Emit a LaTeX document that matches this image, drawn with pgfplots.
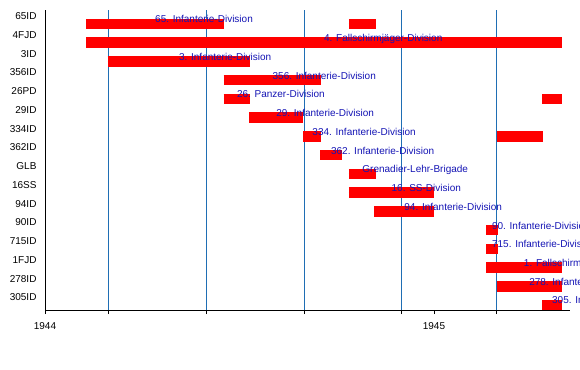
\documentclass[border=0pt]{standalone}
\usepackage{fontspec}
\setmainfont{Liberation Sans}
\usepackage{pgfplots}
\usepackage{pgfplotstable}
\pgfplotsset{compat=1.18}
\definecolor{gridblue}{RGB}{31,110,180}
\definecolor{labelblue}{RGB}{20,20,180}
% x = days since 1 January 1944
\pgfplotstableread{
y start end label
15 39 168 {65. Infanterie-Division}
15 286 311 {}
14 39 486 {4. Fallschirmjäger-Division}
13 59 193 {3. Infanterie-Division}
12 168 260 {356. Infanterie-Division}
11 168 193 {26. Panzer-Division}
11 468 486 {}
10 192 243 {29. Infanterie-Division}
9 243 260 {334. Infanterie-Division}
9 425 469 {}
8 259 279 {362. Infanterie-Division}
7 286 311 {Grenadier-Lehr-Brigade}
6 286 366 {16. SS-Division}
5 310 366 {94. Infanterie-Division}
4 415 426 {90. Infanterie-Division}
3 415 426 {715. Infanterie-Division}
2 415 486 {1. Fallschirmjäger-Division}
1 425 486 {278. Infanterie-Division}
0 468 486 {305. Infanterie-Division}
}\bars
\begin{document}
\begin{tikzpicture}
\useasboundingbox (0,0) rectangle (580bp,370bp);
\begin{axis}[
  at={(45bp,60bp)}, anchor=south west,
  scale only axis, width=525bp, height=300bp,
  xmin=0, xmax=494, ymin=-0.267, ymax=15.747,
  axis lines=left, axis line style={-, black, line width=0.8bp},
  xtick={0,366}, xticklabels={1944,1945},
  extra x ticks={60,152,244,335,425}, extra x tick labels={},
  extra x tick style={grid=major},
  major grid style={gridblue, line width=0.8bp},
  tick align=outside, major tick length=4bp,
  x tick style={black, line width=0.8bp},
  xticklabel style={yshift=-5bp},
  ytick={0,...,15},
  yticklabels={305ID,278ID,1FJD,715ID,90ID,94ID,16SS,GLB,362ID,334ID,29ID,26PD,356ID,3ID,4FJD,65ID},
  y tick style={draw=none},
  yticklabel style={yshift=7.7bp, xshift=-1bp},
  clip=false,
  /pgf/number format/assume math mode=true,
  every tick label/.append style={font=\fontsize{10bp}{12bp}\selectfont, text=black},
]
\addplot[only marks, mark=*, mark size=0pt, mark options={draw=none, fill=none},
  error bars/.cd, x dir=plus, x explicit, error mark=none,
  error bar style={red, line width=10.5bp}]
  table[x=start, y=y, x error expr=\thisrow{end}-\thisrow{start}] {\bars};
\addplot[only marks, mark=*, mark size=0pt, mark options={draw=none, fill=none},
  nodes near coords, point meta=explicit symbolic,
  nodes near coords style={anchor=base west, inner sep=0pt, text=labelblue, yshift=1bp,
    font=\fontsize{10bp}{12bp}\selectfont}]
  table[x expr={(\thisrow{start}+\thisrow{end})/2}, y=y, meta=label] {\bars};
\end{axis}
\end{tikzpicture}
\end{document}
